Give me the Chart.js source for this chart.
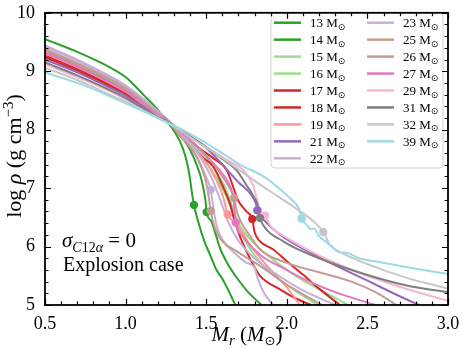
<!DOCTYPE html>
<html><head><meta charset="utf-8">
<script src="https://cdn.jsdelivr.net/npm/chart.js@4.4.0/dist/chart.umd.min.js"></script>
<style>html,body{margin:0;padding:0;background:#fff;}#wrap{width:463px;height:348px;}</style>
</head><body><div id="wrap"><canvas id="c" width="463" height="348"></canvas></div>
<script>
// ---- data (Mr [Msun], log rho [g cm^-3]) ----
const masses = [13,14,15,16,17,18,19,21,22,23,25,26,27,29,31,32,39];
const colors = ['#2ca02c','#2ca02c','#98df8a','#98df8a','#d62728','#d62728','#ff9896','#9467bd','#c5b0d5','#c5b0d5','#c49c94','#c49c94','#e377c2','#f7b6d2','#7f7f7f','#c7c7c7','#9edae5'];
const xTickLabels = ['0.5','1.0','1.5','2.0','2.5','3.0'];
const yTickLabels = ['5','6','7','8','9','10'];

const m13 = [[0.5,9.55],[0.7,9.33],[0.9,9.07],[1.0,8.90],[1.12,8.57],[1.2,8.34],[1.25,8.16],[1.3,7.98],[1.35,7.72],[1.38,7.45],[1.40,7.15],[1.41,6.95],[1.424,6.71],[1.451,6.42],[1.49,6.08],[1.524,5.86],[1.56,5.62],[1.606,5.42],[1.65,5.18],[1.68,5.0]];
const m14 = [[0.5,9.34],[0.7,9.1],[0.9,8.82],[1.0,8.68],[1.1,8.48],[1.2,8.27],[1.25,8.16],[1.32,7.95],[1.38,7.75],[1.42,7.54],[1.46,7.25],[1.48,7.03],[1.495,6.8],[1.503,6.59],[1.534,6.42],[1.56,6.2],[1.586,5.97],[1.63,5.72],[1.689,5.47],[1.76,5.22],[1.844,5.0]];
const m15 = [[0.5,9.32],[0.7,9.08],[0.9,8.8],[1.0,8.66],[1.1,8.46],[1.2,8.26],[1.25,8.17],[1.4,7.8],[1.5,7.45],[1.56,7.2],[1.6,7.0],[1.64,6.75],[1.68,6.45],[1.73,6.15],[1.8,5.85],[1.9,5.55],[2.05,5.25],[2.19,5.0]];
const m16 = [[0.5,9.28],[0.7,9.05],[0.9,8.78],[1.0,8.64],[1.1,8.45],[1.2,8.25],[1.25,8.16],[1.4,7.82],[1.5,7.52],[1.58,7.2],[1.62,7.0],[1.66,6.7],[1.7,6.4],[1.8,6.05],[1.95,5.7],[2.1,5.42],[2.25,5.2],[2.38,5.0]];
const m17 = [[0.5,9.27],[0.7,9.04],[0.9,8.77],[1.0,8.63],[1.1,8.44],[1.2,8.25],[1.25,8.17],[1.4,7.75],[1.48,7.52],[1.544,7.37],[1.6,7.05],[1.648,6.73],[1.68,6.4],[1.72,6.1],[1.78,5.75],[1.834,5.5],[1.95,5.28],[2.05,5.12],[2.15,5.0]];
const m18 = [[0.5,9.24],[0.7,9.01],[0.9,8.75],[1.0,8.61],[1.1,8.43],[1.2,8.24],[1.25,8.17],[1.35,7.95],[1.45,7.7],[1.55,7.5],[1.627,7.31],[1.67,7.0],[1.70,6.78],[1.75,6.6],[1.786,6.47],[1.80,6.25],[1.834,6.09],[1.916,5.95],[2.0,5.75],[2.1,5.52],[2.2,5.28],[2.33,5.0]];
const m19 = [[0.5,9.30],[0.7,9.07],[0.9,8.8],[1.0,8.65],[1.1,8.45],[1.2,8.25],[1.25,8.16],[1.35,7.9],[1.45,7.6],[1.52,7.35],[1.56,7.15],[1.586,7.0],[1.61,6.8],[1.633,6.55],[1.69,6.38],[1.78,6.0],[1.9,5.6],[2.0,5.3],[2.08,5.0]];
const m21 = [[0.5,9.20],[0.7,8.98],[0.9,8.72],[1.0,8.58],[1.1,8.41],[1.2,8.24],[1.25,8.16],[1.35,7.96],[1.48,7.74],[1.586,7.45],[1.7,7.1],[1.77,6.92],[1.79,6.84],[1.81,6.72],[1.817,6.62],[1.86,6.45],[1.96,6.2],[2.2,5.82],[2.52,5.39],[2.7,5.15],[2.82,5.0]];
const m22 = [[0.5,9.44],[0.7,9.2],[0.9,8.92],[1.0,8.76],[1.1,8.55],[1.2,8.32],[1.25,8.2],[1.33,7.95],[1.4,7.72],[1.45,7.5],[1.49,7.25],[1.52,7.05],[1.528,6.97],[1.545,6.65],[1.565,6.35],[1.6,6.12],[1.68,5.88],[1.75,5.72],[1.80,5.64],[1.82,5.45],[1.86,5.2],[1.915,5.0]];
const m23 = [[0.5,9.42],[0.7,9.18],[0.9,8.9],[1.0,8.74],[1.1,8.53],[1.2,8.3],[1.25,8.2],[1.35,7.92],[1.42,7.7],[1.48,7.45],[1.53,7.2],[1.56,7.0],[1.6,6.7],[1.64,6.4],[1.7,6.1],[1.8,5.8],[1.95,5.5],[2.1,5.25],[2.3,5.0]];
const m25 = [[0.5,9.38],[0.7,9.14],[0.9,8.87],[1.0,8.71],[1.1,8.5],[1.2,8.28],[1.25,8.18],[1.33,7.92],[1.4,7.7],[1.45,7.48],[1.49,7.2],[1.51,6.95],[1.528,6.61],[1.55,6.35],[1.586,6.14],[1.7,5.9],[1.834,5.67],[2.0,5.35],[2.2,5.03],[2.22,5.0]];
const m26 = [[0.5,9.36],[0.7,9.12],[0.9,8.85],[1.0,8.7],[1.1,8.49],[1.2,8.28],[1.25,8.18],[1.35,7.95],[1.45,7.7],[1.52,7.5],[1.6,7.2],[1.65,6.98],[1.674,6.83],[1.69,6.6],[1.72,6.4],[1.78,6.15],[1.834,5.95],[2.0,5.72],[2.2,5.56],[2.4,5.4],[2.55,5.22],[2.68,5.0]];
const m27 = [[0.5,9.32],[0.7,9.08],[0.9,8.81],[1.0,8.66],[1.1,8.46],[1.2,8.26],[1.25,8.17],[1.4,7.82],[1.5,7.55],[1.6,7.25],[1.65,7.02],[1.67,6.8],[1.683,6.41],[1.72,6.2],[1.834,5.86],[2.0,5.6],[2.1,5.45],[2.3,5.22],[2.55,5.0]];
const m29 = [[0.5,9.12],[0.7,8.9],[0.9,8.66],[1.0,8.52],[1.1,8.37],[1.2,8.23],[1.25,8.16],[1.4,7.88],[1.5,7.7],[1.65,7.45],[1.73,7.31],[1.79,7.05],[1.834,6.64],[1.865,6.53],[1.9,6.35],[2.0,6.15],[2.2,5.85],[2.5,5.5],[2.75,5.27],[3.0,5.07]];
const m31 = [[0.5,9.15],[0.7,8.93],[0.9,8.68],[1.0,8.54],[1.1,8.38],[1.2,8.22],[1.25,8.16],[1.35,7.98],[1.46,7.78],[1.6,7.5],[1.69,7.3],[1.75,7.05],[1.79,6.88],[1.82,6.7],[1.834,6.49],[1.85,6.38],[1.978,6.09],[2.2,5.8],[2.516,5.5],[2.75,5.33],[3.0,5.22]];
const m32 = [[0.5,9.06],[0.7,8.85],[0.9,8.6],[1.0,8.48],[1.1,8.34],[1.2,8.2],[1.3,8.05],[1.45,7.78],[1.56,7.59],[1.7,7.32],[1.834,7.06],[1.95,6.85],[2.09,6.59],[2.17,6.42],[2.226,6.25],[2.27,6.02],[2.35,5.88],[2.5,5.7],[2.75,5.46],[3.0,5.28]];
const m39 = [[0.5,8.98],[0.75,8.75],[1.0,8.45],[1.2,8.2],[1.4,7.93],[1.6,7.6],[1.71,7.4],[1.855,7.2],[1.95,7.0],[2.03,6.8],[2.075,6.65],[2.092,6.48],[2.12,6.38],[2.15,6.3],[2.17,6.31],[2.2,6.18],[2.225,6.12],[2.27,6.02],[2.33,5.9],[2.36,5.9],[2.45,5.8],[2.58,5.73],[2.8,5.62],[3.0,5.53]];

// explosion-point markers
const markMass = [13,14,19,21,22,25,26,27,18,29,31,32,39];
const markMr   = [1.424,1.503,1.633,1.817,1.528,1.528,1.674,1.683,1.786,1.865,1.834,2.226,2.092];
const markRho  = [6.71,6.59,6.55,6.62,6.97,6.61,6.83,6.41,6.47,6.53,6.49,6.25,6.48];

const series = [m13,m14,m15,m16,m17,m18,m19,m21,m22,m23,m25,m26,m27,m29,m31,m32,m39];

// ---- build datasets ----
const datasets = [];
series.forEach((s,i)=>{
  datasets.push({label: masses[i]+' M\u2299', data: s.map(p=>({x:p[0],y:p[1]})), showLine:true,
    borderColor: colors[i], backgroundColor: colors[i], borderWidth:2, pointRadius:0,
    cubicInterpolationMode:'monotone', fill:false, order: 100-i});
});
markMass.forEach((m,k)=>{
  const i = masses.indexOf(m);
  datasets.push({label:'', data:[{x:markMr[k], y:markRho[k]}], showLine:false,
    pointRadius:4.2, pointBackgroundColor: colors[i], pointBorderWidth:0, order: 60-i});
});

const SERIF = '"Liberation Serif","Times New Roman",serif';

function drawRuns(ctx, runs, x0, y0, rotate, center){
  let w=0;
  runs.forEach(r=>{ctx.font=r[1]; r.w=ctx.measureText(r[0]).width; w+=r.w;});
  ctx.save(); ctx.translate(x0,y0); if(rotate) ctx.rotate(-Math.PI/2);
  ctx.textAlign='left'; ctx.textBaseline='alphabetic'; ctx.fillStyle='#000';
  let x = center ? -w/2 : 0;
  runs.forEach(r=>{ctx.font=r[1]; ctx.fillText(r[0], x, r[2]||0); x+=r.w;});
  ctx.restore();
}

const decor = {
  id:'decor',
  afterDatasetsDraw(chart){
    const ctx = chart.ctx;
    const bx=271, by=13, bw=172, bh=155, rr=4;
    ctx.save();
    ctx.beginPath();
    ctx.moveTo(bx+rr,by); ctx.lineTo(bx+bw-rr,by); ctx.quadraticCurveTo(bx+bw,by,bx+bw,by+rr);
    ctx.lineTo(bx+bw,by+bh-rr); ctx.quadraticCurveTo(bx+bw,by+bh,bx+bw-rr,by+bh);
    ctx.lineTo(bx+rr,by+bh); ctx.quadraticCurveTo(bx,by+bh,bx,by+bh-rr);
    ctx.lineTo(bx,by+rr); ctx.quadraticCurveTo(bx,by,bx+rr,by); ctx.closePath();
    ctx.fillStyle='rgba(255,255,255,0.85)'; ctx.fill();
    ctx.strokeStyle='rgba(204,204,204,0.9)'; ctx.lineWidth=1; ctx.stroke();
    masses.forEach((m,i)=>{
      const col = i<9?0:1, row = i<9?i:i-9;
      const lx = col===0?274:367, tx = col===0?310:403;
      const cy = 22.7 + row*16.95;
      ctx.strokeStyle=colors[i]; ctx.lineWidth=2.5; ctx.beginPath();
      ctx.moveTo(lx,cy); ctx.lineTo(lx+27,cy); ctx.stroke();
      drawRuns(ctx, [[m+' M','13px '+SERIF,0],['\u2299','9px "DejaVu Sans",sans-serif',2.5]], tx, cy+4.5, false, false);
    });
    ctx.restore();
  },
  afterDraw(chart){
    const ctx=chart.ctx, a=chart.chartArea, xs=chart.scales.x, ys=chart.scales.y;
    ctx.save();
    ctx.strokeStyle='#000'; ctx.lineWidth=1.2;
    for(let k=0;k<=25;k++){
      const px = Math.round(xs.getPixelForValue(0.5+k*0.1))+0.5;
      const L = (k%5===0)?6:3.5;
      ctx.beginPath(); ctx.moveTo(px,a.bottom); ctx.lineTo(px,a.bottom-L);
      ctx.moveTo(px,a.top); ctx.lineTo(px,a.top+L); ctx.stroke();
    }
    for(let k=0;k<=25;k++){
      const py = Math.round(ys.getPixelForValue(5+k*0.2))+0.5;
      const L = (k%5===0)?6:3.5;
      ctx.beginPath(); ctx.moveTo(a.left,py); ctx.lineTo(a.left+L,py);
      ctx.moveTo(a.right,py); ctx.lineTo(a.right-L,py); ctx.stroke();
    }
    ctx.lineWidth=1.8;
    ctx.strokeRect(a.left, a.top, a.right-a.left, a.bottom-a.top);
    ctx.restore();
    drawRuns(ctx, [['M','italic 21px '+SERIF,0],['r','italic 15px '+SERIF,4],[' (','21px '+SERIF,0],['M','italic 21px '+SERIF,0],['\u2299','13px "DejaVu Sans",sans-serif',4],[')','21px '+SERIF,0]], 247, 341, false, true);
    drawRuns(ctx, [['log ','22px '+SERIF,0],['\u03c1','italic 22px '+SERIF,0],[' (g cm','22px '+SERIF,0],['\u22123','15px '+SERIF,-8],[')','22px '+SERIF,0]], 21, 156, true, true);
    drawRuns(ctx, [['\u03c3','italic 21px '+SERIF,0],['C','italic 14px '+SERIF,5],['12','14px '+SERIF,5],['\u03b1','italic 14px '+SERIF,5],[' = 0','21px '+SERIF,0]], 62, 247, false, false);
    drawRuns(ctx, [['Explosion case','20px '+SERIF,0]], 63, 271, false, false);
  }
};

new Chart(document.getElementById('c'), {
  type:'scatter',
  data:{datasets},
  options:{
    responsive:false, animation:false, devicePixelRatio:1,
    layout:{padding:{top:6,right:15,left:0,bottom:0}},
    plugins:{legend:{display:false}, tooltip:{enabled:false}},
    scales:{
      x:{type:'linear', min:0.5, max:3.0,
        grid:{display:false}, border:{display:false},
        ticks:{stepSize:0.5, autoSkip:false, maxRotation:0, padding:0, color:'#000',
          font:{family:SERIF, size:18},
          callback:(v)=>xTickLabels[Math.round((v-0.5)/0.5)]},
        afterFit:(s)=>{s.height=43;}},
      y:{type:'linear', min:5, max:10,
        grid:{display:false}, border:{display:false},
        ticks:{stepSize:1, autoSkip:false, padding:2, color:'#000',
          font:{family:SERIF, size:18},
          callback:(v)=>yTickLabels[Math.round(v-5)]},
        afterFit:(s)=>{s.width=45;}}
    }
  },
  plugins:[decor]
});
</script></body></html>
